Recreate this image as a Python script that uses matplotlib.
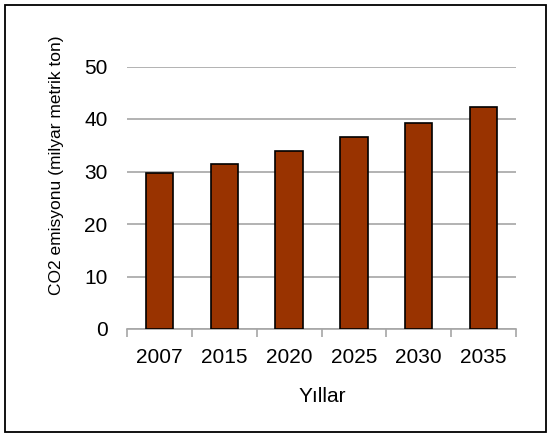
import matplotlib
matplotlib.use("Agg")
import matplotlib.pyplot as plt
from matplotlib.patches import Rectangle
import numpy as np

plt.rcParams['font.family'] = ['Liberation Sans', 'DejaVu Sans']

years = ['2007', '2015', '2020', '2025', '2030', '2035']
emissions = [29.7, 31.5, 34.0, 36.6, 39.3, 42.2]

fig = plt.figure(figsize=(5.51, 4.37), dpi=100)
ax = fig.add_axes([127 / 551, 1 - 329 / 437, (516 - 127) / 551, (329 - 66.5) / 437])

x = np.arange(len(years))
ax.bar(x, emissions, width=0.42, color='#993300', edgecolor='black', linewidth=1.2, zorder=3)

ax.set_xlim(-0.5, len(years) - 0.5)
ax.set_ylim(0, 50)
ax.set_yticks(range(0, 51, 10))
ax.grid(axis='y', color='#a6a6a6', linewidth=1.2, zorder=0)

for side in ['top', 'right', 'left']:
    ax.spines[side].set_visible(False)
ax.spines['bottom'].set_color('#a6a6a6')
ax.spines['bottom'].set_linewidth(1.2)

ax.set_xticks(x)
ax.set_xticklabels(years, fontsize=15)
ax.tick_params(axis='x', which='major', length=0, pad=14)
ax.set_xticks(np.arange(-0.5, len(years)), minor=True)
ax.tick_params(axis='x', which='minor', length=6, width=1.2, color='#a6a6a6', direction='out')
ax.tick_params(axis='y', length=0, pad=14, labelsize=15)

fig.text(57 / 551, 1 - 165 / 437, 'CO2 emisyonu (milyar metrik ton)', rotation=90,
         ha='center', va='center', fontsize=12.5)
fig.text(322 / 551, 1 - 397 / 437, 'Yıllar', ha='center', va='center', fontsize=15)

fig.patches.append(Rectangle((5 / 551, 5 / 437), 541 / 551, 427 / 437, transform=fig.transFigure,
                             fill=False, edgecolor='black', linewidth=1.3))

fig.savefig('out.png', dpi=100)
